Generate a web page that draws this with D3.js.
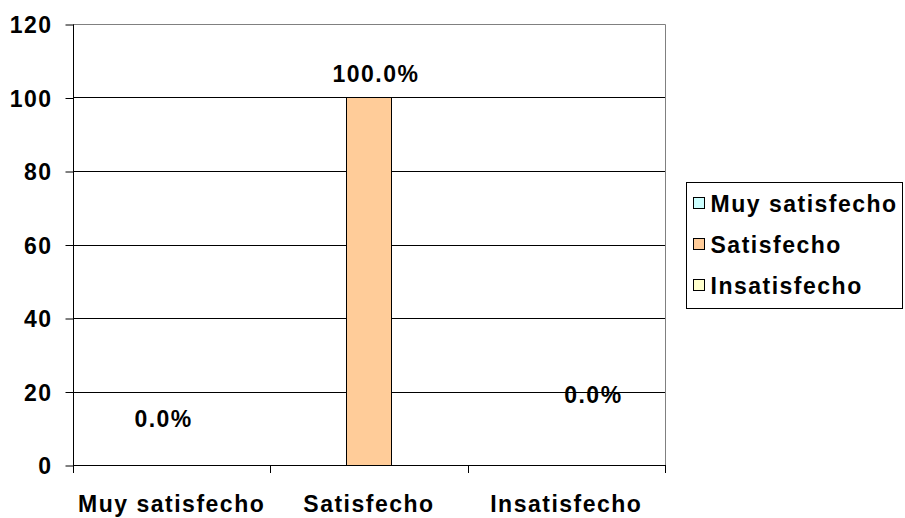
<!DOCTYPE html>
<html lang="es">
<head>
<meta charset="utf-8">
<script src="https://cdn.jsdelivr.net/npm/d3@7"></script>
<style>
  body { margin: 0; background: #fff; }
  text { font-family: Arial, "Liberation Sans", sans-serif; font-weight: bold; letter-spacing: 1.5px; }
</style>
</head>
<body>
<script>
// categories on the x axis, one series per category
var categories = ["Muy satisfecho", "Satisfecho", "Insatisfecho"];
var seriesNames = ["Muy satisfecho", "Satisfecho", "Insatisfecho"];
var seriesValues = [0, 100, 0];
var seriesColors = ["#CCFFFF", "#FFCC99", "#FFFFCC"];
var yTicks = [0, 20, 40, 60, 80, 100, 120];

var width = 905, height = 518;
var plotL = 73, plotR = 665, plotT = 24, plotB = 465;
var fs = 23;

var svg = d3.select("body").append("svg")
    .attr("width", width)
    .attr("height", height);

var x = d3.scaleBand().domain(categories).range([plotL, plotR]);
var y = d3.scaleLinear().domain([0, 120]).range([plotB, plotT]);

// clustered bars, excel style gap
var gap = 1.38;
var barW = x.bandwidth() / (seriesNames.length + gap);
var xs = d3.scaleBand().domain(seriesNames)
    .range([gap * barW / 2, gap * barW / 2 + barW * seriesNames.length]);

// gridlines
svg.selectAll(".grid")
    .data(yTicks.filter(function(d) { return d > 0 && d < 120; }))
    .enter().append("line")
    .attr("x1", plotL).attr("x2", plotR)
    .attr("y1", function(d) { return Math.round(y(d)) + 0.5; })
    .attr("y2", function(d) { return Math.round(y(d)) + 0.5; })
    .attr("stroke", "#000");

// plot border top/right
svg.append("path")
    .attr("d", "M" + plotL + "," + (y(120) + 0.5) + "H" + (plotR + 0.5) + "V" + plotB)
    .attr("fill", "none")
    .attr("stroke", "#808080");

// bars
var bars = seriesNames.map(function(s, i) {
  return { name: s, cat: categories[i], value: seriesValues[i], color: seriesColors[i] };
});

svg.selectAll(".bar")
    .data(bars.filter(function(d) { return d.value > 0; }))
    .enter().append("rect")
    .attr("x", function(d) { return Math.round(x(d.cat) + xs(d.name)) + 0.5; })
    .attr("y", function(d) { return Math.round(y(d.value)) + 0.5; })
    .attr("width", Math.round(xs.bandwidth()))
    .attr("height", function(d) { return Math.round(y(0) - y(d.value)); })
    .attr("fill", function(d) { return d.color; })
    .attr("stroke", "#000");

// data labels (moved by hand in the original)
var nudge = [[37, -38], [7, -16], [-18, -62]];
svg.selectAll(".lbl")
    .data(bars)
    .enter().append("text")
    .attr("x", function(d, i) { return x(d.cat) + xs(d.name) + xs.bandwidth() / 2 + nudge[i][0]; })
    .attr("y", function(d, i) { return y(d.value) + nudge[i][1]; })
    .attr("text-anchor", "middle")
    .attr("font-size", fs)
    .text(function(d) { return d.value.toFixed(1) + "%"; });

// y axis
svg.append("g")
    .attr("transform", "translate(" + (plotL + 0.5) + ",0.5)")
    .call(d3.axisLeft(y).tickValues(yTicks).tickSize(8).tickPadding(13))
    .call(function(g) {
      g.select(".domain").attr("stroke", "#000").attr("d", "M0," + y(120) + "V" + y(0));
      g.selectAll(".tick line").attr("stroke", "#000");
      g.selectAll("text").attr("font-size", fs).attr("fill", "#000")
        .attr("font-family", "Arial, 'Liberation Sans', sans-serif")
        .attr("dy", "0.36em");
    });

// x axis
svg.append("line")
    .attr("x1", plotL).attr("x2", plotR + 1)
    .attr("y1", plotB + 0.5).attr("y2", plotB + 0.5)
    .attr("stroke", "#000");

var edges = categories.map(function(c) { return x(c); }).concat([plotR]);
svg.selectAll(".xtick")
    .data(edges)
    .enter().append("line")
    .attr("x1", function(d) { return Math.round(d) + 0.5; })
    .attr("x2", function(d) { return Math.round(d) + 0.5; })
    .attr("y1", plotB).attr("y2", plotB + 8)
    .attr("stroke", "#000");

svg.selectAll(".xlab")
    .data(categories)
    .enter().append("text")
    .attr("x", function(d) { return x(d) + x.bandwidth() / 2; })
    .attr("y", 512)
    .attr("text-anchor", "middle")
    .attr("font-size", fs)
    .text(function(d) { return d; });

// legend
var lg = svg.append("g").attr("transform", "translate(686.5,182.5)");
lg.append("rect")
    .attr("width", 216).attr("height", 126)
    .attr("fill", "#fff").attr("stroke", "#000");

var item = lg.selectAll(".item")
    .data(seriesNames)
    .enter().append("g")
    .attr("transform", function(d, i) { return "translate(7," + (21 + i * 41) + ")"; });

item.append("rect")
    .attr("x", 0).attr("y", -6)
    .attr("width", 11).attr("height", 11)
    .attr("fill", function(d, i) { return seriesColors[i]; })
    .attr("stroke", "#000");

item.append("text")
    .attr("x", 17).attr("y", 8)
    .attr("font-size", fs)
    .text(function(d) { return d; });
</script>
</body>
</html>
